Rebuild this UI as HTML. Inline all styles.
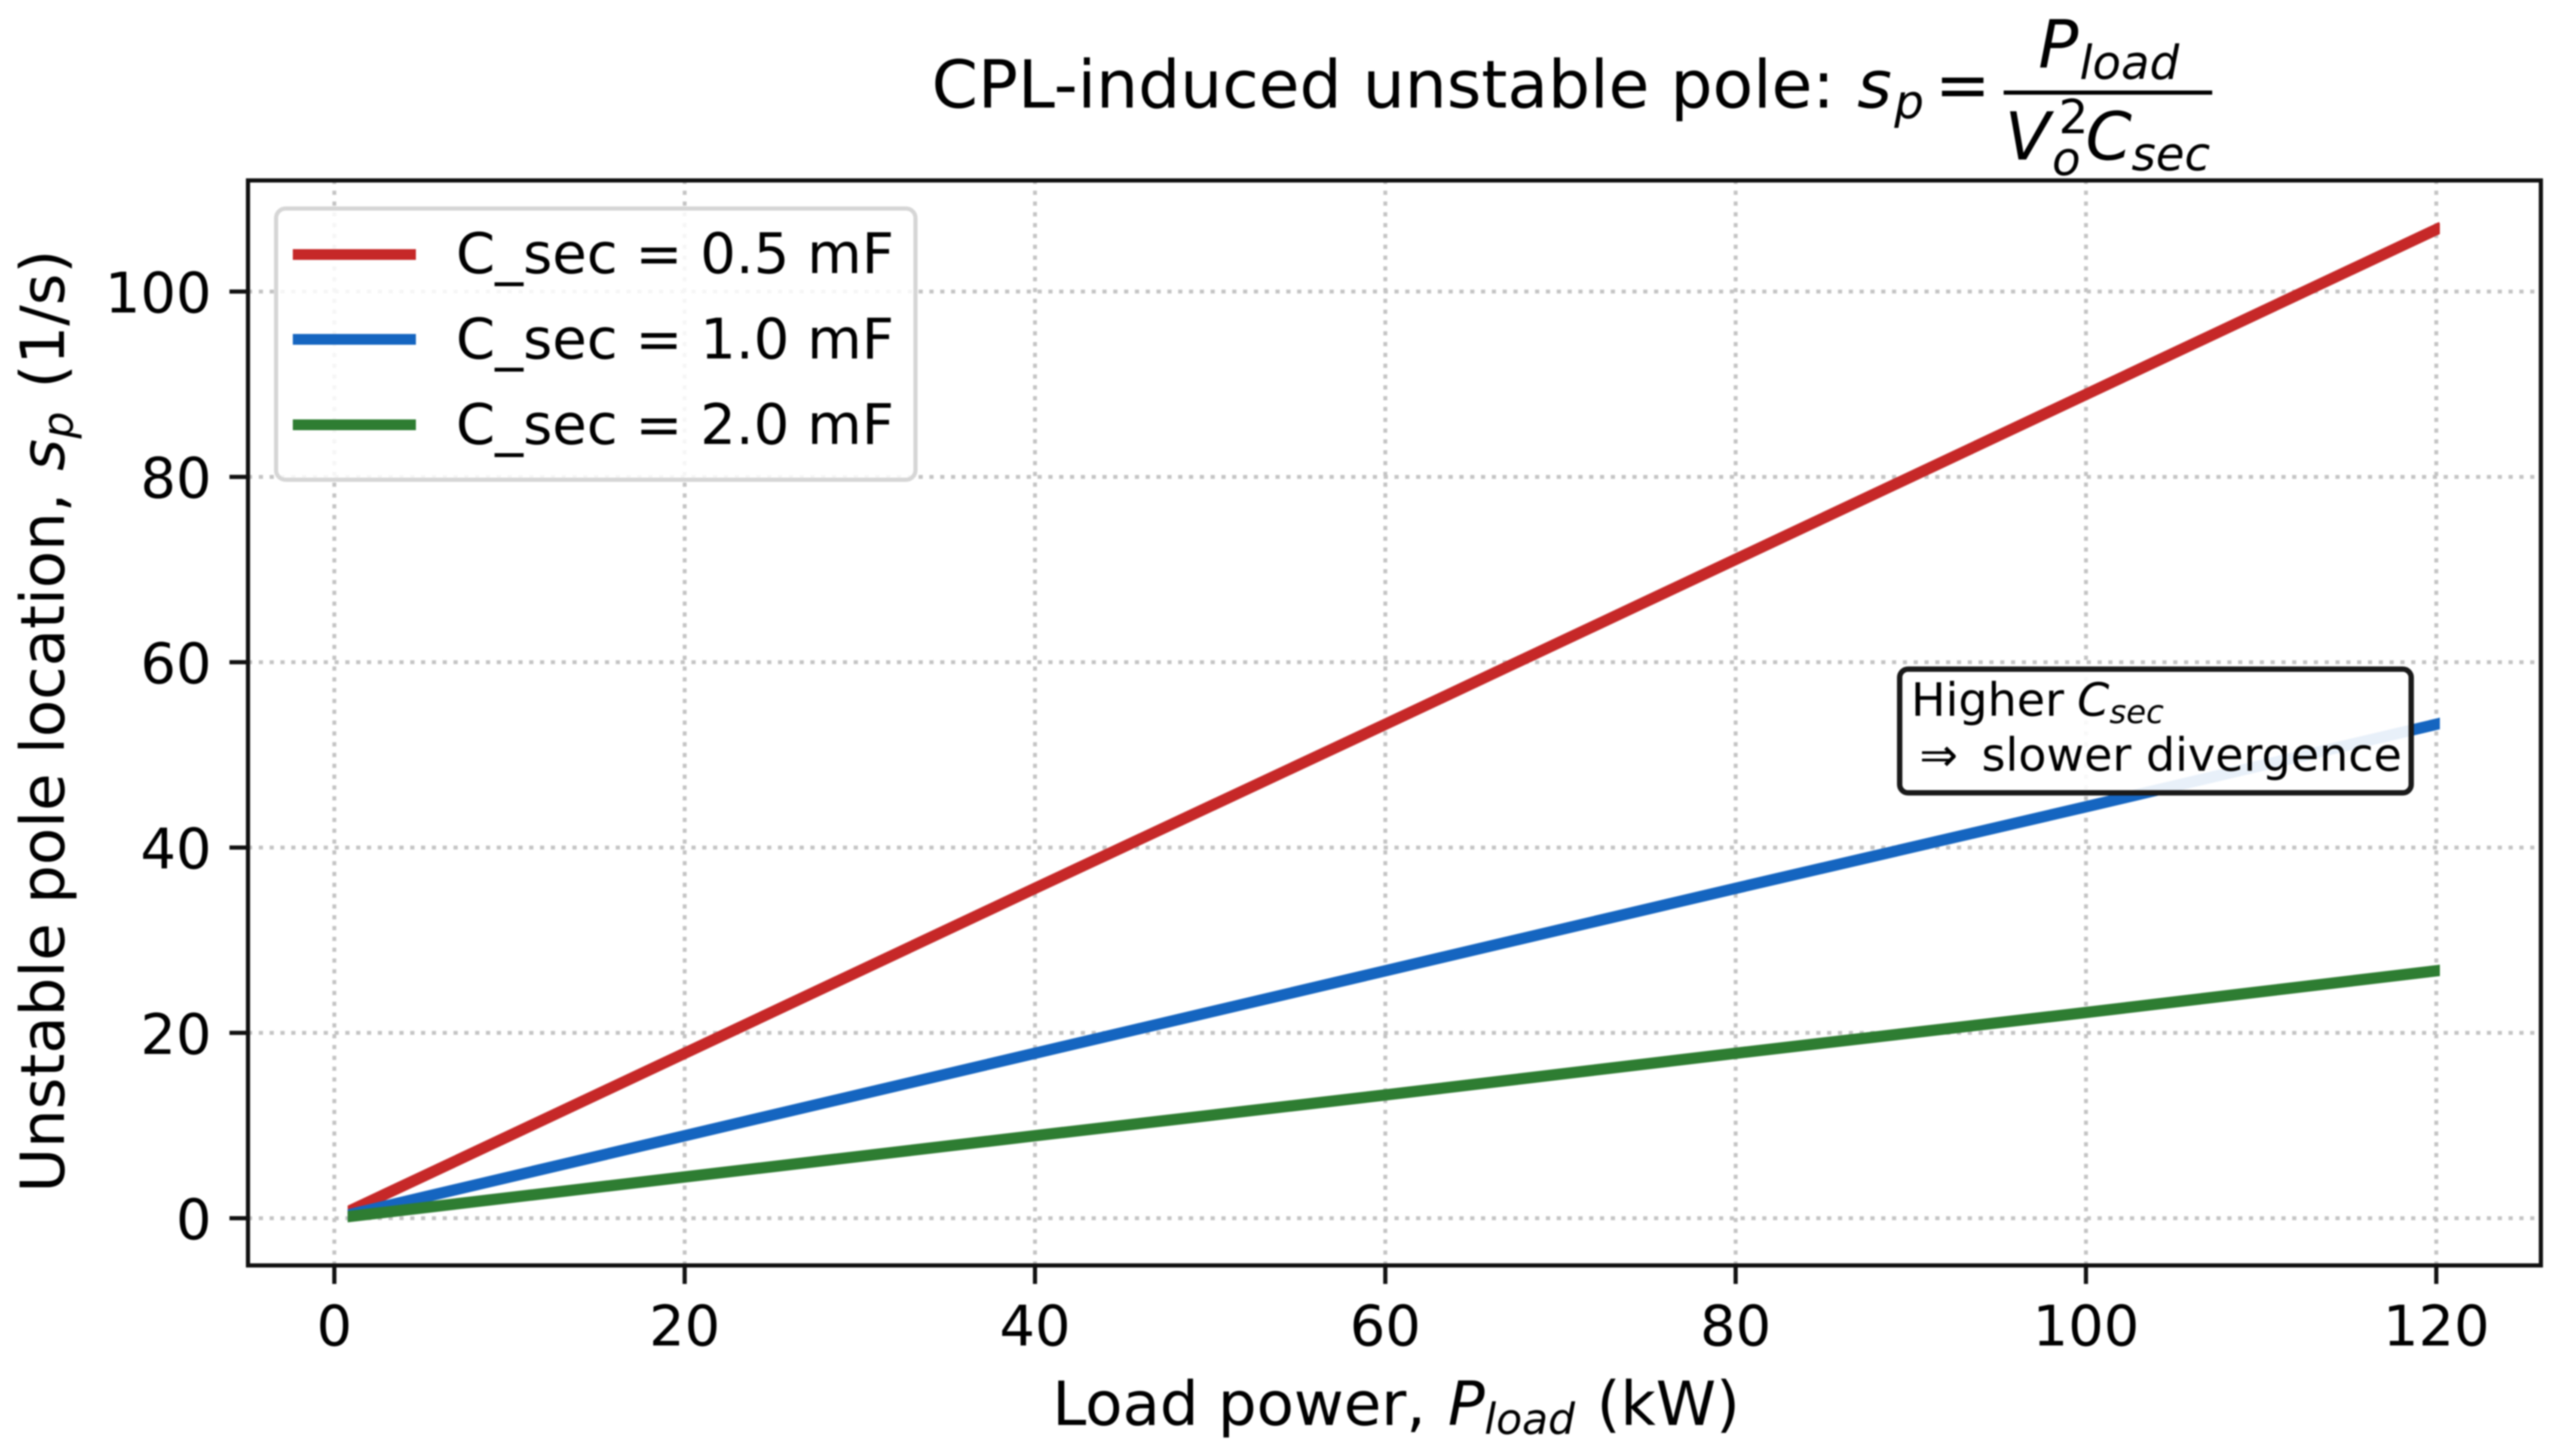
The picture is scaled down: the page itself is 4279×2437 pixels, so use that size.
<!DOCTYPE html>
<html lang="en">
<head>
<meta charset="utf-8">
<title>CPL-induced unstable pole</title>
<style>
html,body{margin:0;padding:0;background:#fff;}
svg{display:block;filter:blur(1.4px);}
text{font-family:"DejaVu Sans","Liberation Sans",sans-serif;fill:#000;}
.it{font-style:italic;}
</style>
</head>
<body>
<svg id="chart" xmlns="http://www.w3.org/2000/svg" width="4279" height="2437" viewBox="0 0 4279 2437">
  <defs><clipPath id="series-clip"><rect id="series-clip-rect" x="0" y="0" width="4279" height="2437"/></clipPath></defs>
  <rect x="0" y="0" width="4279" height="2437" fill="#fff"/>
  <g id="grid"></g>
  <g id="series" clip-path="url(#series-clip)"></g>

  <g>
    <rect x="462" y="349" width="1070" height="454" rx="16" ry="16" fill="#fff" fill-opacity="0.85" stroke="#d6d6d6" stroke-width="7"/>
    <g>
      <line x1="490" y1="426" x2="696" y2="426" stroke="#c62828" stroke-width="18"/>
      <text x="763" y="457" font-size="93.8">C_sec = 0.5 mF</text>
    </g>
    <g>
      <line x1="490" y1="568" x2="696" y2="568" stroke="#1565c0" stroke-width="18"/>
      <text x="763" y="600" font-size="93.8">C_sec = 1.0 mF</text>
    </g>
    <g>
      <line x1="490" y1="711" x2="696" y2="711" stroke="#2e7d32" stroke-width="18"/>
      <text x="763" y="743" font-size="93.8">C_sec = 2.0 mF</text>
    </g>
  </g>

  <g>
    <rect x="3179" y="1120" width="856" height="207" rx="14" ry="14" fill="#fff" fill-opacity="0.9" stroke="#1a1a1a" stroke-width="9"/>
    <text font-size="77" y="1198"><tspan x="3198">Higher</tspan><tspan class="it" x="3476">C</tspan><tspan class="it" x="3530" y="1210" font-size="54">sec</tspan></text>
    <text font-size="77" y="1290"><tspan x="3212">⇒</tspan><tspan x="3316">slower divergence</tspan></text>
  </g>

  <g id="frame"></g>
  <g id="ticks"></g>

  <text font-size="102" y="2385"><tspan x="1761">Load power,</tspan><tspan class="it" x="2423">P</tspan><tspan class="it" x="2484" y="2400" font-size="71">load</tspan><tspan x="2672" y="2385">(kW)</tspan></text>

  <text font-size="102" transform="translate(107 1996) rotate(-90)" y="0"><tspan x="0">Unstable pole location,</tspan><tspan class="it" x="1208">s</tspan><tspan class="it" x="1262" y="15" font-size="71">p</tspan><tspan x="1346" y="0">(1/s)</tspan></text>

  <g>
    <text font-size="111" y="180"><tspan x="1559">CPL-induced unstable pole:</tspan><tspan class="it" x="3108">s</tspan><tspan class="it" x="3170" y="198" font-size="78">p</tspan></text>
    <text font-size="111" x="3238" y="180">=</text>
    <line x1="3353" y1="155" x2="3702" y2="155" stroke="#000" stroke-width="7"/>
    <text font-size="111" y="113"><tspan class="it" x="3411">P</tspan><tspan class="it" x="3480" y="132" font-size="78">load</tspan></text>
    <text font-size="111" y="267"><tspan class="it" x="3355">V</tspan><tspan x="3445" y="223" font-size="78">2</tspan><tspan class="it" x="3434" y="293" font-size="78">o</tspan><tspan class="it" x="3490" y="267">C</tspan><tspan class="it" x="3567" y="285" font-size="78">sec</tspan></text>
  </g>
</svg>

<script>
const xTickLabels = ["0", "20", "40", "60", "80", "100", "120"];
const yTickLabels = ["0", "20", "40", "60", "80", "100"];
const xTickValues = [0, 20, 40, 60, 80, 100, 120];
const yTickValues = [0, 20, 40, 60, 80, 100];
const loadPower = [1, 20, 40, 60, 80, 100, 120];
const poleHalfMf = [0.9, 17.8, 35.6, 53.3, 71.1, 88.9, 106.7];
const poleOneMf = [0.45, 8.9, 17.8, 26.7, 35.6, 44.4, 53.3];
const poleTwoMf = [0.22, 4.45, 8.9, 13.3, 17.8, 22.2, 26.7];

const NS = "http://www.w3.org/2000/svg";
const AX = { left: 415, right: 4252, top: 302, bottom: 2118 };

function xScale(v) { return 559.5 + v * (4077 - 559.5) / 120; }
function yScale(v) { return 2039 - v * (2039 - 488) / 100; }

function make(tag, parent) {
  const el = document.createElementNS(NS, tag);
  parent.appendChild(el);
  return el;
}

const clipRect = document.getElementById("series-clip-rect");
const clipStart = xScale(loadPower[0]) - 7;
const clipEnd = xScale(loadPower[loadPower.length - 1]) + 6;
clipRect.setAttribute("x", clipStart);
clipRect.setAttribute("width", clipEnd - clipStart);

const gridG = document.getElementById("grid");
xTickValues.forEach(function (v) {
  const ln = make("line", gridG);
  
  
  ln.setAttribute("x1", xScale(v));
  ln.setAttribute("x2", xScale(v));
  ln.setAttribute("y1", AX.bottom);
  ln.setAttribute("y2", AX.top);
  ln.setAttribute("stroke", "#c4c4c4");
  ln.setAttribute("stroke-width", "6.5");
  ln.setAttribute("stroke-dasharray", "7 11.1");
});
yTickValues.forEach(function (v) {
  const ln = make("line", gridG);
  
  
  ln.setAttribute("x1", AX.left);
  ln.setAttribute("x2", AX.right);
  ln.setAttribute("y1", yScale(v));
  ln.setAttribute("y2", yScale(v));
  ln.setAttribute("stroke", "#c4c4c4");
  ln.setAttribute("stroke-width", "6.5");
  ln.setAttribute("stroke-dasharray", "7 11.1");
});

function drawSeries(values, color, seriesName) {
  const seriesG = document.getElementById("series");
  const d = values.map(function (v, i) {
    return (i ? "L" : "M") + xScale(loadPower[i]).toFixed(2) + " " + yScale(v).toFixed(2);
  }).join(" ");
  const p = make("path", seriesG);
  
  
  p.setAttribute("d", d);
  p.setAttribute("fill", "none");
  p.setAttribute("stroke", color);
  p.setAttribute("stroke-width", "19");
  p.setAttribute("stroke-linejoin", "round");
  p.setAttribute("stroke-linecap", "square");
}
drawSeries(poleHalfMf, "#c62828", "series-0-5-mf");
drawSeries(poleOneMf, "#1565c0", "series-1-0-mf");
drawSeries(poleTwoMf, "#2e7d32", "series-2-0-mf");

const frameG = document.getElementById("frame");
const frame = make("rect", frameG);


frame.setAttribute("x", AX.left);
frame.setAttribute("y", AX.top);
frame.setAttribute("width", AX.right - AX.left);
frame.setAttribute("height", AX.bottom - AX.top);
frame.setAttribute("fill", "none");
frame.setAttribute("stroke", "#111");
frame.setAttribute("stroke-width", "7");

const ticksG = document.getElementById("ticks");
xTickValues.forEach(function (v, i) {
  const t = make("line", ticksG);
  
  
  t.setAttribute("x1", xScale(v));
  t.setAttribute("x2", xScale(v));
  t.setAttribute("y1", AX.bottom);
  t.setAttribute("y2", AX.bottom + 31);
  t.setAttribute("stroke", "#111");
  t.setAttribute("stroke-width", "7");
  const lb = make("text", ticksG);
  
  
  lb.setAttribute("x", xScale(v));
  lb.setAttribute("y", 2252);
  lb.setAttribute("font-size", "93.5");
  lb.setAttribute("text-anchor", "middle");
  lb.textContent = xTickLabels[i];
});
yTickValues.forEach(function (v, i) {
  const t = make("line", ticksG);
  
  
  t.setAttribute("x1", AX.left - 31);
  t.setAttribute("x2", AX.left);
  t.setAttribute("y1", yScale(v));
  t.setAttribute("y2", yScale(v));
  t.setAttribute("stroke", "#111");
  t.setAttribute("stroke-width", "7");
  const lb = make("text", ticksG);
  
  
  lb.setAttribute("x", 354);
  lb.setAttribute("y", yScale(v) + 35);
  lb.setAttribute("font-size", "93.5");
  lb.setAttribute("text-anchor", "end");
  lb.textContent = yTickLabels[i];
});
</script>
</body>
</html>
